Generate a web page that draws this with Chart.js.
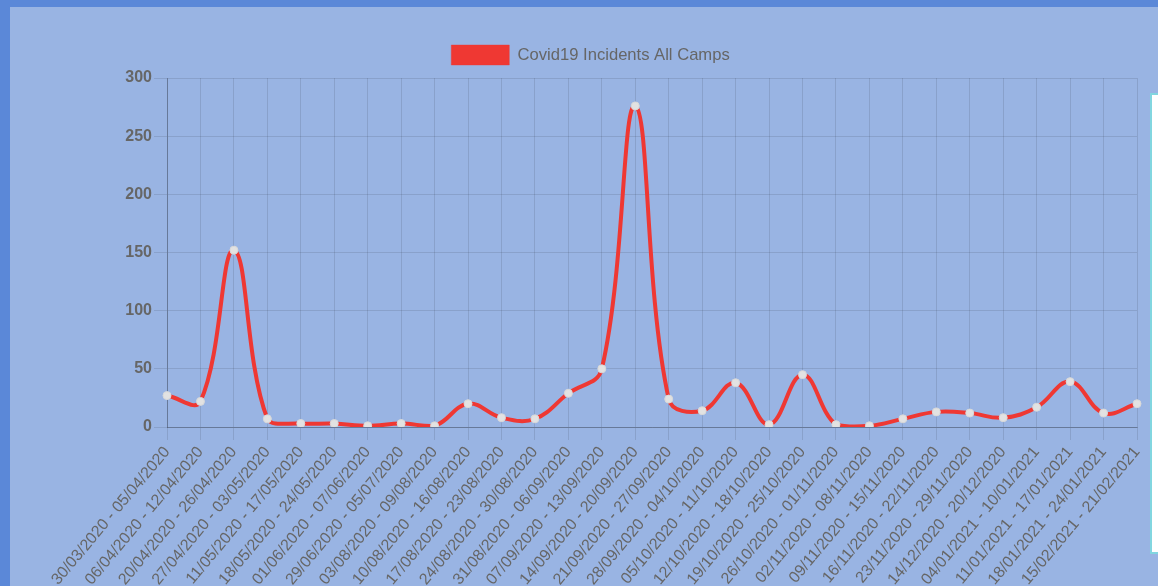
<!DOCTYPE html>
<html>
<head>
<meta charset="utf-8">
<script src="https://cdn.jsdelivr.net/npm/chart.js@4/dist/chart.umd.min.js"></script>
<style>
  html, body { margin: 0; padding: 0; width: 1158px; height: 586px; overflow: hidden; background: #5b88d8; }
  #inner { position: absolute; left: 10px; top: 7px; right: 0; bottom: 0; background: #99b4e3; }
  #side { position: absolute; left: 1150px; top: 93px; width: 30px; height: 457px; background: #fff; border: 2px solid #82d6e0; }
  #wrap { position: absolute; left: 44px; top: 7px; width: 1114px; height: 579px; }
</style>
</head>
<body>
<div id="inner"></div>
<div id="side"></div>
<div id="wrap"><canvas id="c"></canvas></div>
<script>
const weeks = [
  "30/03/2020 - 05/04/2020", "06/04/2020 - 12/04/2020", "20/04/2020 - 26/04/2020",
  "27/04/2020 - 03/05/2020", "11/05/2020 - 17/05/2020", "18/05/2020 - 24/05/2020",
  "01/06/2020 - 07/06/2020", "29/06/2020 - 05/07/2020", "03/08/2020 - 09/08/2020",
  "10/08/2020 - 16/08/2020", "17/08/2020 - 23/08/2020", "24/08/2020 - 30/08/2020",
  "31/08/2020 - 06/09/2020", "07/09/2020 - 13/09/2020", "14/09/2020 - 20/09/2020",
  "21/09/2020 - 27/09/2020", "28/09/2020 - 04/10/2020", "05/10/2020 - 11/10/2020",
  "12/10/2020 - 18/10/2020", "19/10/2020 - 25/10/2020", "26/10/2020 - 01/11/2020",
  "02/11/2020 - 08/11/2020", "09/11/2020 - 15/11/2020", "16/11/2020 - 22/11/2020",
  "23/11/2020 - 29/11/2020", "14/12/2020 - 20/12/2020", "04/01/2021 - 10/01/2021",
  "11/01/2021 - 17/01/2021", "18/01/2021 - 24/01/2021", "15/02/2021 - 21/02/2021"
];
const incidents = [27, 22, 152, 7, 3, 3, 1, 3, 1, 20, 8, 7, 29, 50, 276, 24, 14, 38, 2, 45, 2, 1, 7, 13, 12, 8, 17, 39, 12, 20];
const seriesName = "Covid19 Incidents All Camps";
const yMin = 0, yMax = 300, yStep = 50;

const grey = '#666';
const legendSpacer = {
  id: 'legendSpacer',
  afterInit(chart) {
    const lg = chart.legend;
    if (!lg) return;
    const orig = lg.fit.bind(lg);
    lg.fit = function () { orig(); this.height += 3; };
  }
};
new Chart(document.getElementById('c'), {
  type: 'line',
  plugins: [legendSpacer],
  data: {
    labels: weeks,
    datasets: [{
      label: seriesName,
      data: incidents,
      borderColor: '#ef3833',
      backgroundColor: '#ef3833',
      borderWidth: 4,
      tension: 0.4,
      fill: false,
      pointRadius: 4,
      pointBorderWidth: 1,
      pointBackgroundColor: '#e2e2e2',
      pointBorderColor: '#d8d8d8'
    }]
  },
  options: {
    responsive: true,
    maintainAspectRatio: false,
    animation: false,
    layout: { padding: { top: 26, right: 21, left: 0, bottom: 0 } },
    plugins: {
      legend: {
        labels: {
          color: grey,
          padding: 12,
          font: { family: 'Liberation Sans, Arial, sans-serif', size: 16.6 },
          boxWidth: 58,
          boxHeight: 20,
          generateLabels: (chart) => [{
            text: seriesName, fillStyle: '#ef3833', strokeStyle: 'rgba(239,56,51,0.4)',
            lineWidth: 1, datasetIndex: 0, fontColor: grey
          }]
        }
      },
      tooltip: { enabled: false }
    },
    scales: {
      x: {
        grid: { color: 'rgba(0,0,0,0.1)', tickLength: 13, lineWidth: 1 },
        border: { color: 'rgba(0,0,0,0.25)' },
        ticks: {
          color: grey, minRotation: 50, maxRotation: 50, autoSkip: false,
          font: { family: 'Liberation Sans, Arial, sans-serif', size: 16 }
        },
        afterFit: (s) => { s.height = 159; }
      },
      y: {
        min: yMin, max: yMax,
        grid: { color: 'rgba(0,0,0,0.1)', tickLength: 13, lineWidth: 1 },
        border: { color: 'rgba(0,0,0,0.25)' },
        ticks: {
          stepSize: yStep, color: grey, padding: 2,
          font: { family: 'Liberation Sans, Arial, sans-serif', size: 16, weight: 'bold' }
        },
        afterFit: (s) => { s.width = 123; }
      }
    }
  }
});
</script>
</body>
</html>
